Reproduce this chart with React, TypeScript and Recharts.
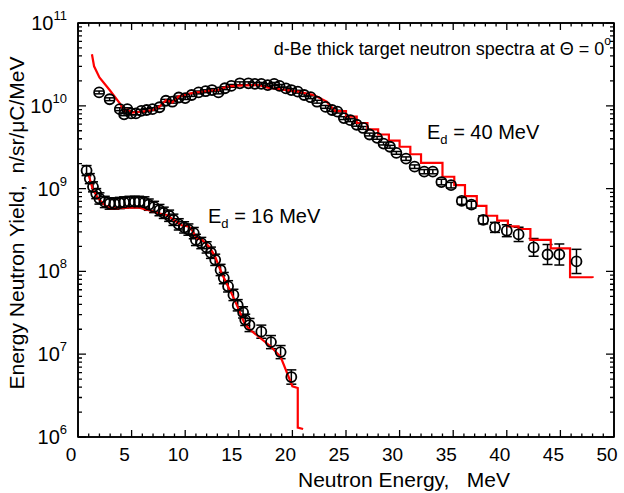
import React from "react";
import { ComposedChart, Line, Scatter, ErrorBar, XAxis, YAxis } from "recharts";

const FONT = "'Liberation Sans', Arial, Helvetica, sans-serif";

// measured, Ed = 40 MeV
const energy40 = [
  1.97, 2.95, 3.9, 4.3, 4.6, 4.95, 5.4, 5.9, 6.4, 6.95, 7.6, 8.2, 8.8, 9.4, 10.0, 10.6, 11.25, 11.9, 12.5, 13.1,
  13.7, 14.3, 15.1, 15.9, 16.5, 17.1, 17.7, 18.3, 18.8, 19.4, 19.9, 20.5, 21.1, 21.7, 22.3, 23.1, 23.7, 24.2, 24.8, 25.4,
  26.0, 26.6, 27.2, 27.9, 28.5, 29.1, 29.7, 30.6, 31.4, 32.3, 33.1, 33.9, 34.8, 35.8, 36.7, 37.8, 38.9, 40.0, 41.1, 42.5,
  43.8, 44.9, 46.5,
];
const yield40 = [
  1.45e10, 1.2e10, 9.1e9, 7.9e9, 9.1e9, 8.1e9, 8.1e9, 8.7e9, 8.9e9, 9.1e9, 9.6e9, 1.15e10, 1.12e10, 1.26e10, 1.24e10, 1.35e10, 1.45e10, 1.5e10, 1.55e10, 1.45e10,
  1.63e10, 1.74e10, 1.87e10, 1.87e10, 1.84e10, 1.84e10, 1.78e10, 1.84e10, 1.74e10, 1.62e10, 1.55e10, 1.48e10, 1.35e10, 1.27e10, 1.12e10, 9.7e9, 8.9e9, 8.5e9, 7.1e9, 6.7e9,
  5.9e9, 5.4e9, 4.5e9, 4.1e9, 3.5e9, 3.2e9, 2.7e9, 2.3e9, 1.84e9, 1.6e9, 1.6e9, 1.2e9, 1.1e9, 7.1e8, 6.4e8, 4.2e8, 3.4e8, 3.1e8, 2.8e8, 1.95e8,
  1.6e8, 1.6e8, 1.32e8,
];
const relErr40 = [
  0.04, 0.04, 0.04, 0.04, 0.04, 0.04, 0.04, 0.04, 0.04, 0.04, 0.04, 0.04, 0.04, 0.04, 0.04, 0.04, 0.04, 0.04, 0.04, 0.04,
  0.04, 0.04, 0.04, 0.04, 0.04, 0.04, 0.04, 0.04, 0.04, 0.04, 0.04, 0.04, 0.04, 0.04, 0.04, 0.04, 0.04, 0.04, 0.04, 0.04,
  0.04, 0.04, 0.04, 0.04, 0.04, 0.04, 0.04, 0.05, 0.05, 0.06, 0.06, 0.08, 0.08, 0.1, 0.1, 0.12, 0.15, 0.18, 0.22, 0.28,
  0.32, 0.34, 0.4,
];

// measured, Ed = 16 MeV
const energy16 = [
  0.8, 1.1, 1.4, 1.7, 2.0, 2.5, 2.95, 3.4, 3.9, 4.3, 4.8, 5.3, 5.7, 6.2, 6.6, 7.1, 7.6, 8.0, 8.5, 8.9,
  9.4, 9.9, 10.3, 10.8, 11.0, 11.5, 12.0, 12.4, 12.8, 13.3, 13.6, 14.0, 14.5, 14.9, 15.4, 15.6, 16.0, 17.1, 18.0, 18.9,
  19.9,
];
const yield16 = [
  1.65e9, 1.32e9, 1.05e9, 8.7e8, 7.6e8, 6.9e8, 6.6e8, 6.6e8, 6.7e8, 6.8e8, 6.9e8, 6.9e8, 6.9e8, 6.8e8, 6.4e8, 6.0e8, 5.5e8, 5.1e8, 4.7e8, 4.2e8,
  3.7e8, 3.4e8, 3.2e8, 2.9e8, 2.4e8, 2.2e8, 1.95e8, 1.68e8, 1.38e8, 1.04e8, 8.3e7, 6.6e7, 5.2e7, 3.9e7, 3.2e7, 2.6e7, 2.25e7, 1.87e7, 1.4e7, 1.06e7,
  5.3e6,
];
const relErr16 = [
  0.15, 0.15, 0.15, 0.15, 0.17, 0.17, 0.17, 0.17, 0.17, 0.17, 0.17, 0.17, 0.17, 0.17, 0.17, 0.17, 0.17, 0.17, 0.17, 0.17,
  0.17, 0.17, 0.17, 0.17, 0.17, 0.17, 0.17, 0.17, 0.17, 0.17, 0.17, 0.17, 0.17, 0.17, 0.17, 0.17, 0.2, 0.2, 0.2, 0.2,
  0.22,
];

// calculation, Ed = 40 MeV (smooth part, then histogram part)
const calcEnergy40 = [1.3, 1.5, 2.0, 2.95, 3.9, 4.3, 4.6, 5.0, 6.0, 7.0, 7.6, 8.2, 8.8, 9.4, 10.6, 12.2, 13.0, 14.0, 15.0, 16.8, 17.7, 18.9, 20.5, 22.0, 23.2, 24.0];
const calcYield40 = [4.2e10, 3.0e10, 2.2e10, 1.55e10, 1.07e10, 8.5e9, 9.0e9, 8.3e9, 8.5e9, 8.9e9, 9.8e9, 1.17e10, 1.1e10, 1.3e10, 1.42e10, 1.52e10, 1.55e10, 1.72e10, 1.75e10, 1.78e10, 1.65e10, 1.58e10, 1.48e10, 1.35e10, 1.12e10, 8.6e9];
const binEnergy40 = [24.0, 25.0, 26.0, 27.0, 28.0, 29.0, 30.0, 31.0, 32.0, 34.0, 35.1, 36.1, 37.2, 38.1, 39.1, 40.1, 41.1, 42.2, 44.1, 45.9, 48.0];
const binYield40 = [8.6e9, 7.4e9, 6.2e9, 5.2e9, 4.5e9, 3.8e9, 3.2e9, 2.6e9, 2.05e9, 1.39e9, 1.1e9, 8.1e8, 6.2e8, 4.7e8, 4.1e8, 3.5e8, 3.25e8, 2.4e8, 1.9e8, 8.5e7, 8.3e7];

// calculation, Ed = 16 MeV
const calcEnergy16 = [1.0, 1.4, 1.9, 2.5, 2.95, 3.7, 4.8, 5.7, 6.6, 7.6, 8.3, 8.9, 9.7, 10.3, 10.6, 11.1, 11.6, 12.3, 12.8, 13.4, 14.3, 14.9, 15.5, 15.9, 18.0, 18.9, 20.0, 20.5, 20.5, 21.0];
const calcYield16 = [1.45e9, 9.6e8, 7.6e8, 6.3e8, 5.8e8, 5.8e8, 5.9e8, 5.9e8, 5.5e8, 5.0e8, 4.8e8, 4.2e8, 3.6e8, 3.5e8, 3.2e8, 2.5e8, 2.4e8, 1.95e8, 1.5e8, 9.5e7, 5.5e7, 3.7e7, 2.4e7, 2.05e7, 1.23e7, 9.3e6, 4.1e6, 3.9e6, 1.3e6, 1.25e6];

const xTicks = [
  0, 1, 2, 3, 4, 5, 6, 7, 8, 9, 10, 11, 12, 13, 14, 15, 16, 17, 18, 19, 20, 21, 22, 23, 24, 25,
  26, 27, 28, 29, 30, 31, 32, 33, 34, 35, 36, 37, 38, 39, 40, 41, 42, 43, 44, 45, 46, 47, 48, 49, 50,
];
const decades = [6, 7, 8, 9, 10];
const yTicks = [...decades.flatMap((d) => [1, 2, 3, 4, 5, 6, 7, 8, 9].map((m) => m * Math.pow(10, d))), 1e11];

const points = (es: number[], ys: number[], rel: number[]) =>
  es.map((e, i) => ({ e, v: ys[i], err: [ys[i] - ys[i] / (1 + rel[i]), ys[i] * rel[i]] }));
const curve = (es: number[], ys: number[]) => es.map((e, i) => ({ e, v: ys[i] }));

const data40 = points(energy40, yield40, relErr40);
const data16 = points(energy16, yield16, relErr16);
const calc40 = curve(calcEnergy40, calcYield40);
const bins40 = curve(binEnergy40, binYield40);
const calc16 = curve(calcEnergy16, calcYield16);

// plot box from the margins and axis sizes used below
const BOX = { left: 78, top: 23, right: 614, bottom: 437 };
const GAP = 8; // default tickSize 6 + tickMargin 2

const isDecade = (v: number) => {
  const lg = Math.log10(v);
  return Math.abs(lg - Math.round(lg)) < 1e-6;
};

const LeftTick = (p: any) => {
  if (!isDecade(p.payload.value)) return <g />;
  const ax = p.x + GAP;
  return (
    <text x={ax - 11} y={p.y + 7} textAnchor="end" fontSize={20} fontFamily={FONT} fill="#000">
      10
      <tspan dy={-10} fontSize={13}>
        {Math.round(Math.log10(p.payload.value))}
      </tspan>
    </text>
  );
};

const BottomTick = (p: any) => {
  if (p.payload.value % 5 !== 0) return <g />;
  const ay = p.y - GAP;
  return (
    <text x={p.x - 7} y={ay + 24} textAnchor="middle" fontSize={19} fontFamily={FONT} fill="#000">
      {p.payload.value}
    </text>
  );
};

// frame with inward ticks on all four sides
function Frame() {
  const w = BOX.right - BOX.left;
  const h = BOX.bottom - BOX.top;
  const xs = (e: number) => BOX.left + (e / 50) * w;
  const ys = (v: number) => BOX.bottom - ((Math.log10(v) - 6) / 5) * h;
  let d = "";
  xTicks.forEach((t) => {
    const len = t % 5 === 0 ? 7 : 3.5;
    const x = xs(t);
    d += `M${x},${BOX.bottom}v${-len}M${x},${BOX.top}v${len}`;
  });
  yTicks.forEach((t) => {
    const len = isDecade(t) ? 8 : 4;
    const y = ys(t);
    d += `M${BOX.left},${y}h${len}M${BOX.right},${y}h${-len}`;
  });
  return (
    <g>
      <rect x={BOX.left} y={BOX.top} width={w} height={h} fill="none" stroke="#000" strokeWidth={1.6} />
      <path d={d} stroke="#000" strokeWidth={1.3} fill="none" />
    </g>
  );
}

export default function App() {
  return (
    <div style={{ position: "absolute", left: 0, top: 0, width: 624, height: 493 }}>
      <div style={{ position: "relative", width: 624, height: 493 }}>
        <ComposedChart width={624} height={493} margin={{ top: 22, right: 9, bottom: 26, left: 18 }}>
          <XAxis
            xAxisId="b"
            type="number"
            dataKey="e"
            domain={[0, 50]}
            ticks={xTicks}
            interval={0}
            height={30}
            stroke="#000"
            strokeWidth={1.6}
            tickLine={false}
            tick={(p: any) => <BottomTick {...p} />}
          />
          <XAxis xAxisId="t" orientation="top" type="number" domain={[0, 50]} ticks={xTicks} interval={0} height={1} stroke="#000" strokeWidth={1.6} tickLine={false} tick={false} />
          <YAxis
            yAxisId="l"
            type="number"
            dataKey="v"
            scale="log"
            domain={[1e6, 1e11]}
            ticks={yTicks}
            interval={0}
            width={60}
            stroke="#000"
            strokeWidth={1.6}
            tickLine={false}
            tick={(p: any) => <LeftTick {...p} />}
          />
          <YAxis yAxisId="r" orientation="right" type="number" scale="log" domain={[1e6, 1e11]} ticks={yTicks} interval={0} width={1} stroke="#000" strokeWidth={1.6} tickLine={false} tick={false} />
          <Scatter xAxisId="b" yAxisId="l" data={data40} dataKey="v" shape={OpenCircle} fill="#000" isAnimationActive={false}>
            <ErrorBar dataKey="err" direction="y" width={5} stroke="#000" strokeWidth={1.5} isAnimationActive={false} />
          </Scatter>
          <Scatter xAxisId="b" yAxisId="l" data={data16} dataKey="v" shape={OpenCircle} fill="#000" isAnimationActive={false}>
            <ErrorBar dataKey="err" direction="y" width={5} stroke="#000" strokeWidth={1.5} isAnimationActive={false} />
          </Scatter>
          <Line xAxisId="b" yAxisId="l" data={calc40} dataKey="v" type="linear" stroke="#ff0000" strokeWidth={2.2} dot={false} isAnimationActive={false} />
          <Line xAxisId="b" yAxisId="l" data={bins40} dataKey="v" type="stepAfter" stroke="#ff0000" strokeWidth={2.2} dot={false} isAnimationActive={false} />
          <Line xAxisId="b" yAxisId="l" data={calc16} dataKey="v" type="linear" stroke="#ff0000" strokeWidth={2.2} dot={false} isAnimationActive={false} />
        </ComposedChart>
      </div>
      <svg width={624} height={493} style={{ position: "absolute", left: 0, top: 0, pointerEvents: "none" }} fontFamily={FONT}>
        <Frame />
        <text x={611} y={55} textAnchor="end" fontSize={18} fill="#000">
          d-Be thick target neutron spectra at Θ = 0
          <tspan dy={-10} fontSize={12}>o</tspan>
        </text>
        <text x={427} y={139} fontSize={20} fill="#000">
          E<tspan dy={5} fontSize={13}>d</tspan>
          <tspan dy={-5}> = 40 MeV</tspan>
        </text>
        <text x={208} y={223} fontSize={20} fill="#000">
          E<tspan dy={5} fontSize={13}>d</tspan>
          <tspan dy={-5}> = 16 MeV</tspan>
        </text>
        <text x={298} y={487} fontSize={21} fill="#000" style={{ whiteSpace: "pre" }}>
          {"Neutron Energy,   MeV"}
        </text>
        <text x={24} y={223} fontSize={21} fill="#000" textAnchor="middle" transform="rotate(-90 24 223)" style={{ whiteSpace: "pre" }}>
          {"Energy Neutron Yield,  n/sr/\u03bcC/MeV"}
        </text>
      </svg>
    </div>
  );
}

function OpenCircle(p: any) {
  return <circle cx={p.cx} cy={p.cy} r={5} fill="none" stroke="#000" strokeWidth={1.8} />;
}
